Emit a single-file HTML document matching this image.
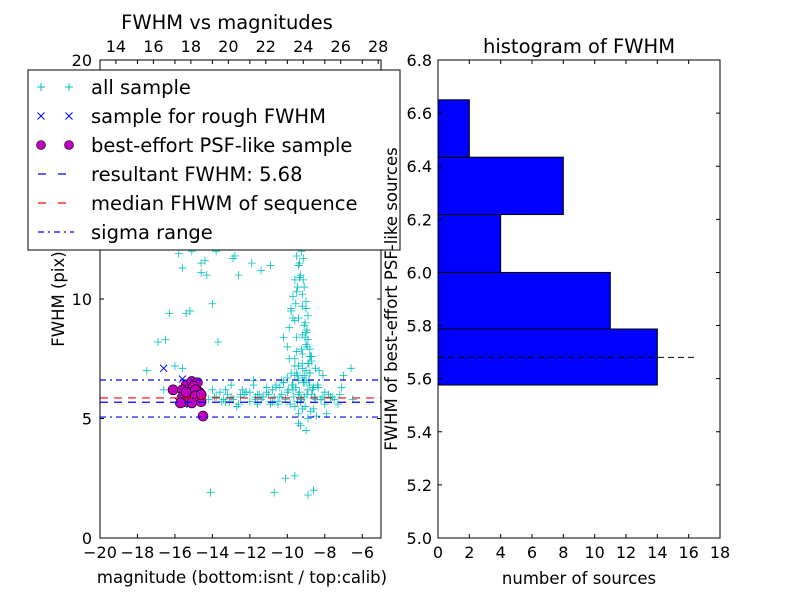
<!DOCTYPE html>
<html><head><meta charset="utf-8">
<style>
body{margin:0;background:#fff;}
svg text{font-family:"DejaVu Sans","Liberation Sans",sans-serif;fill:#000;}
</style></head>
<body>
<svg id="fig" width="800" height="600" xmlns="http://www.w3.org/2000/svg">
<rect width="800" height="600" fill="#fff"/>
<g id="left"></g>
<g id="right"></g>
</svg>
<script>
// ---------- data ----------
const allMag = [-17.5,-16.9,-16.6,-16.3,-16.0,-15.8,-15.6,-15.3,-15.1,-14.9,-14.6,-14.3,-14.0,-13.7,-13.4,-13.1,-12.8,-12.5,-12.2,-11.9,-11.6,-11.3,-11.0,-10.8,-10.6,-10.4,-10.2,-10.0,-9.9,-9.8,-9.7,-9.6,-9.5,-9.4,-9.3,-9.2,-9.1,-9.0,-8.9,-8.8,-8.7,-8.6,-8.5,-8.3,-8.1,-7.9,-7.6,-7.3,-7.0,-6.6,
 -14.2,-13.9,-13.5,-13.2,-12.9,-12.6,-12.3,-12.0,-11.7,-11.4,-11.1,-10.9,-10.7,-10.5,-10.3,-10.1,-9.95,-9.85,-9.75,-9.65,-9.55,-9.45,-9.35,-9.25,-9.15,-9.05,-8.95,-8.85,-8.75,-8.65,-8.55,-8.45,-8.35,-8.2,-8.0,-7.8,-7.5,-7.2,
 -10.0,-9.9,-9.8,-9.7,-9.6,-9.5,-9.4,-9.3,-9.2,-9.1,-9.0,-8.9,-8.8,-9.6,-9.4,-9.2,-9.0,-8.8,-9.5,-9.3,-9.1,-8.9,-9.6,-9.4,-9.2,-9.0,-8.7,-9.3,-9.1,-8.9,-9.5,-9.2,-9.0,-8.8,-9.4,-9.1,-9.3,-9.0,-9.6,-9.2,-9.5,-9.8,-10.2,-10.6,-11.1,-11.8,-12.4,-13.0,-13.6,
 -15.6,-15.4,-15.2,-14.6,-14.4,-13.8,-12.9,-12.1,-11.4,-16.5,-15.9,-10.7,-10.1,-14.1,-15.0,-12.6,-11.0,-9.6,-8.9,-9.3,-8.6,-9.7,-15.8,-14.8,-13.3,-12.0,-11.6,-10.3,-7.1,-6.5,-10.9,-9.4,-11.8,-8.1,
 -9.45,-9.35,-9.25,-9.15,-9.05,-8.95,-9.55,-9.35,-9.15,-8.95,-9.25,-9.05,-8.85,-9.45,-9.2,-9.0,-8.8,-9.3,-9.1,-8.9,-8.7,-9.6,-9.4,-9.2,-8.6,-8.9,-8.75,-9.7,-9.1,-8.5,
 -10.4,-10.0,-9.6,-10.2,-9.8,-9.2,-8.6,-10.5,-10.8,-11.3,-11.7,-12.2,-12.7,-13.3,-13.8,-14.0,-13.0,-12.5,-11.5,-10.9,-8.4,-8.2,-8.0,-7.7];
const allFwhm = [7.0,8.2,6.2,9.4,7.2,11.9,11.3,13.2,12.0,12.8,11.1,11.0,9.8,8.2,5.8,5.7,11.8,5.9,6.1,11.5,6.0,5.9,6.0,6.2,6.3,5.9,6.5,6.1,7.5,12.4,6.2,9.1,10.3,6.0,12.8,8.5,6.8,9.9,7.3,6.4,7.6,5.4,7.1,7.0,6.8,5.2,5.9,5.6,6.8,7.1,
 5.8,5.9,5.7,6.0,5.8,5.6,6.0,5.7,5.9,5.8,6.1,5.6,5.9,5.7,6.0,5.8,6.2,5.6,6.4,5.9,6.3,5.7,6.1,5.8,6.5,5.5,6.0,6.6,5.3,6.2,5.9,5.1,6.3,5.8,5.6,6.0,5.8,6.0,
 8.0,8.8,9.5,10.1,10.8,8.4,9.2,11.0,9.7,10.5,8.6,9.3,7.9,7.5,7.2,7.7,8.1,6.9,11.8,12.3,13.1,12.7,13.5,11.4,10.2,9.6,7.4,14.0,8.9,8.3,6.9,6.7,7.0,7.6,6.6,6.5,4.7,4.5,6.8,7.3,7.8,6.9,6.5,6.4,6.3,6.6,6.2,6.4,6.1,
 7.1,9.4,9.5,11.5,11.6,12.0,11.7,12.5,11.2,8.3,12.2,1.9,2.5,1.9,6.0,11.0,12.9,2.6,1.8,5.8,2.0,6.4,5.6,6.5,6.2,6.1,5.6,6.6,6.3,5.8,11.4,4.8,6.4,5.9,
 10.5,11.5,12.0,10.8,9.0,8.0,9.8,10.9,11.7,8.7,7.9,8.4,7.3,6.8,7.1,6.6,6.9,5.7,5.9,6.2,6.0,5.5,5.2,5.4,6.3,5.0,7.6,9.2,12.6,5.8,
 6.3,6.7,7.2,8.4,9.6,13.0,12.2,5.6,5.7,5.9,5.8,6.1,5.5,5.7,5.9,6.2,5.9,6.0,6.0,5.7,6.4,5.8,6.1,5.9];
const roughMag = [-16.6,-15.6,-15.3,-15.0,-14.8,-14.6,-15.8,-15.2];
const roughFwhm = [7.1,6.65,6.3,6.0,5.9,5.8,5.7,5.6];
const bestMag = [-16.1,-15.4,-15.1,-14.8,-15.6,-15.0,-14.7,-15.3,-14.9,-14.6,-15.6,-15.2,-14.8,-15.5,-15.0,-14.6,-15.4,-14.9,-15.7,-15.1,-14.6,-14.5];
const bestFwhm = [6.2,6.4,6.55,6.5,6.2,6.35,6.1,6.0,6.2,6.0,5.9,5.85,5.8,5.7,5.75,5.7,6.1,5.95,5.65,5.65,6.0,5.1];
const resultFwhm = 5.68, medianFwhm = 5.86, sigmaLow = 5.06, sigmaHigh = 6.61;
const binEdges = [5.576,5.787,6.0,6.218,6.434,6.65];
const binCounts = [14,11,4,8,2];
const xTicksL = [-20,-18,-16,-14,-12,-10,-8,-6];
const xTickLabelsL = ["\u221220","\u221218","\u221216","\u221214","\u221212","\u221210","\u22128","\u22126"];
const yTicksL = [0,5,10,15,20];
const topTicks = [14,16,18,20,22,24,26,28];
const xTicksR = [0,2,4,6,8,10,12,14,16,18];
const yTicksR = [5.0,5.2,5.4,5.6,5.8,6.0,6.2,6.4,6.6,6.8];

// ---------- helpers ----------
const NS="http://www.w3.org/2000/svg";
function mk(parent,tag,attrs,text){const e=document.createElementNS(NS,tag);for(const k in attrs)e.setAttribute(k,attrs[k]);if(text!==undefined)e.textContent=text;parent.appendChild(e);return e;}
const L=document.getElementById('left'), R=document.getElementById('right');
const FS=16, FT=19.5, FL=19.5;
const lx0=100,lx1=381,ly0=538,ly1=60;
const sxL=v=>lx0+(v+20)/15*(lx1-lx0);
const syL=v=>ly0-v/20*(ly0-ly1);
const calibOff=33.15;
const sxT=v=>sxL(v-calibOff);

let clip=mk(L,'clipPath',{id:'clipL'});mk(clip,'rect',{x:lx0,y:ly1,width:lx1-lx0,height:ly0-ly1});
const pts=mk(L,'g',{'clip-path':'url(#clipL)'});


for(let i=0;i<allMag.length;i++){const x=sxL(allMag[i]),y=syL(allFwhm[i]);
 const p=mk(pts,'path',{d:`M${x-4},${y}H${x+4}M${x},${y-4}V${y+4}`,stroke:'#00bfbf','stroke-width':0.8});
 
 }
for(let i=0;i<roughMag.length;i++){const x=sxL(roughMag[i]),y=syL(roughFwhm[i]);
 const p=mk(pts,'path',{d:`M${x-3.5},${y-3.5}L${x+3.5},${y+3.5}M${x-3.5},${y+3.5}L${x+3.5},${y-3.5}`,stroke:'#0000ff','stroke-width':1});
 
 }
for(let i=0;i<bestMag.length;i++){
 const c=mk(pts,'circle',{cx:sxL(bestMag[i]),cy:syL(bestFwhm[i]),r:5,fill:'#bf00bf',stroke:'#000','stroke-width':0.6});
 
 }
function hline(g,v,color,dash,name){const l=mk(g,'line',{x1:lx0,x2:lx1,y1:syL(v),y2:syL(v),stroke:color,'stroke-width':1.2,'stroke-dasharray':dash});
 
 }
hline(pts,sigmaHigh,'#0000ff','6,4,2,4','sigma-upper-line');
hline(pts,sigmaLow,'#0000ff','6,4,2,4','sigma-lower-line');
hline(pts,medianFwhm,'#ff0000','8,6','median-fwhm-line');
hline(pts,resultFwhm,'#0000ff','8,6','resultant-fwhm-line');

mk(L,'rect',{x:lx0,y:ly1,width:lx1-lx0,height:ly0-ly1,fill:'none',stroke:'#000','stroke-width':1});
xTicksL.forEach((t,i)=>{const x=sxL(t);mk(L,'path',{d:`M${x},${ly0}v-4M${x},${ly1}v4`,stroke:'#000'});
 mk(L,'text',{x:x,y:ly0+20,'text-anchor':'middle','font-size':FS},xTickLabelsL[i]);});
yTicksL.forEach(t=>{const y=syL(t);mk(L,'path',{d:`M${lx0},${y}h4M${lx1},${y}h-4`,stroke:'#000'});
 mk(L,'text',{x:lx0-8,y:y+6,'text-anchor':'end','font-size':FS},t);});
topTicks.forEach(t=>{const x=sxT(t);mk(L,'path',{d:`M${x},${ly1}v4`,stroke:'#000'});
 mk(L,'text',{x:x,y:ly1-8,'text-anchor':'middle','font-size':FS},t);});
let t1=mk(L,'text',{x:242,y:583,'text-anchor':'middle','font-size':16.5},'magnitude (bottom:isnt / top:calib)');

let t2=mk(L,'text',{x:64,y:299,'text-anchor':'middle','font-size':16.5,transform:'rotate(-90 64 299)'},'FWHM (pix)');

let t3=mk(L,'text',{x:227,y:29,'text-anchor':'middle','font-size':FT},'FWHM vs magnitudes');


// legend
const lg=mk(L,'g',{});


mk(lg,'rect',{x:28,y:70,width:372,height:180,fill:'#fff',stroke:'#000','stroke-width':1});
const entries=['all sample','sample for rough FWHM','best-effort PSF-like sample','resultant FWHM: 5.68','median FHWM of sequence','sigma range'];
entries.forEach((s,i)=>{const y=87+i*29;
 const e=mk(lg,'g',{});
 
 
 if(i===0){[41,69].forEach(x=>mk(e,'path',{d:`M${x-4},${y}H${x+4}M${x},${y-4}V${y+4}`,stroke:'#00bfbf'}));}
 if(i===1){[41,69].forEach(x=>mk(e,'path',{d:`M${x-3.5},${y-3.5}L${x+3.5},${y+3.5}M${x-3.5},${y+3.5}L${x+3.5},${y-3.5}`,stroke:'#0000ff'}));}
 if(i===2){[41,69].forEach(x=>mk(e,'circle',{cx:x,cy:y,r:4.5,fill:'#bf00bf',stroke:'#000','stroke-width':0.6}));}
 if(i===3)mk(e,'line',{x1:38,x2:74,y1:y,y2:y,stroke:'#0000ff','stroke-width':1.2,'stroke-dasharray':'8,12'});
 if(i===4)mk(e,'line',{x1:38,x2:74,y1:y,y2:y,stroke:'#ff0000','stroke-width':1.2,'stroke-dasharray':'8,12'});
 if(i===5)mk(e,'line',{x1:38,x2:74,y1:y,y2:y,stroke:'#0000ff','stroke-width':1.2,'stroke-dasharray':'6,4,2,4'});
 mk(e,'text',{x:91,y:y+7,'font-size':FL},s);});

// right axes
const rx0=438,rx1=720,ry0=538,ry1=60;
const sxR=v=>rx0+v/18*(rx1-rx0);
const syR=v=>ry0-(v-5.0)/1.8*(ry0-ry1);
for(let i=0;i<binCounts.length;i++){
 const b=mk(R,'rect',{x:sxR(0),y:syR(binEdges[i+1]),width:sxR(binCounts[i])-sxR(0),height:syR(binEdges[i])-syR(binEdges[i+1]),fill:'#0000ff',stroke:'#000','stroke-width':1});
 
 }
let rl=mk(R,'line',{x1:sxR(0),x2:sxR(16.6),y1:syR(resultFwhm),y2:syR(resultFwhm),stroke:'#000','stroke-width':1,'stroke-dasharray':'6,4'});

mk(R,'rect',{x:rx0,y:ry1,width:rx1-rx0,height:ry0-ry1,fill:'none',stroke:'#000','stroke-width':1});
xTicksR.forEach(t=>{const x=sxR(t);mk(R,'path',{d:`M${x},${ry0}v-4M${x},${ry1}v4`,stroke:'#000'});
 mk(R,'text',{x:x,y:ry0+20,'text-anchor':'middle','font-size':FS},t);});
yTicksR.forEach(t=>{const y=syR(t);mk(R,'path',{d:`M${rx0},${y}h4M${rx1},${y}h-4`,stroke:'#000'});
 mk(R,'text',{x:rx0-6,y:y+6,'text-anchor':'end','font-size':FS},t.toFixed(1));});
let t4=mk(R,'text',{x:579,y:584,'text-anchor':'middle','font-size':16.5},'number of sources');

let t5=mk(R,'text',{x:397,y:299,'text-anchor':'middle','font-size':16.5,transform:'rotate(-90 397 299)'},'FWHM of best-effort PSF-like sources');

let t6=mk(R,'text',{x:579,y:53,'text-anchor':'middle','font-size':FT},'histogram of FWHM');

</script>
</body></html>
